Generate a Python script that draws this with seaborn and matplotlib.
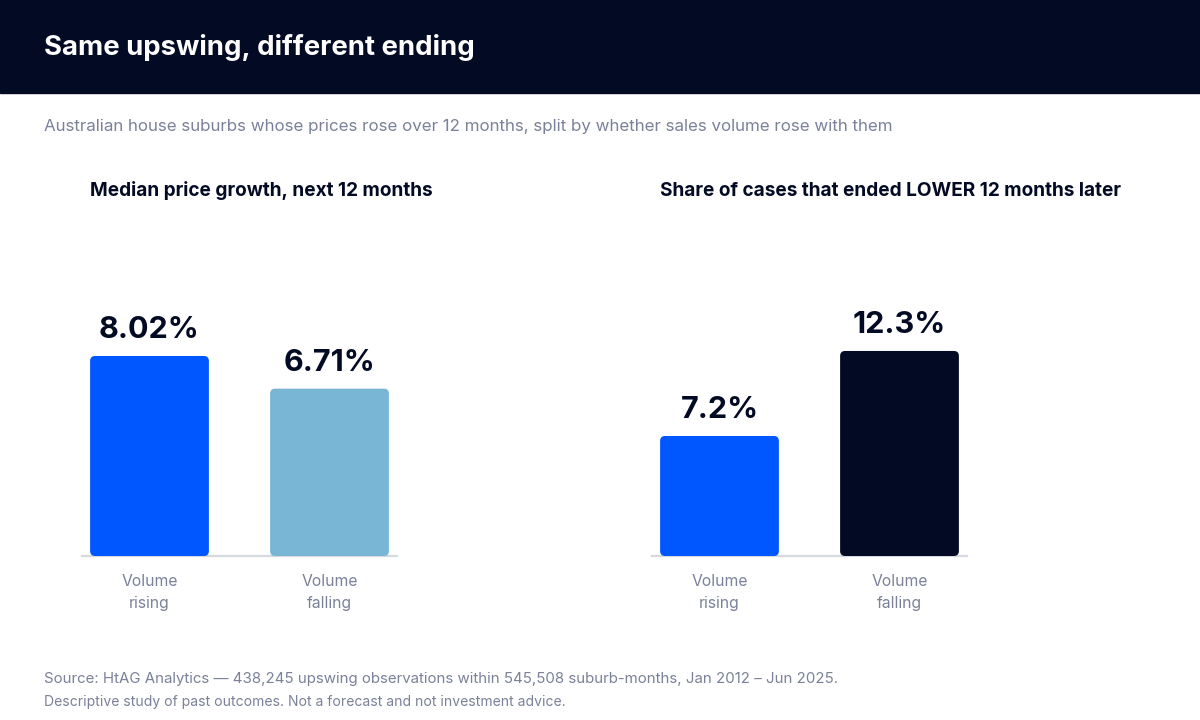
import seaborn as sns
import pandas as pd
import matplotlib.pyplot as plt
from matplotlib.patches import Rectangle, FancyBboxPatch


sns.set_theme(style='white')
plt.rcParams['font.family'] = ['Inter', 'DejaVu Sans']

NAVY = '#030b24'
GREY = '#7a8199'

categories = ['Volume\nrising', 'Volume\nfalling']
growth_vals = [8.02, 6.71]
lower_share_vals = [7.2, 12.3]

growth_colors = ['#0057ff', '#79b6d6']
lower_colors = ['#0057ff', NAVY]

title = 'Same upswing, different ending'
subtitle = ('Australian house suburbs whose prices rose over 12 months, '
            'split by whether sales volume rose with them')
left_title = 'Median price growth, next 12 months'
right_title = 'Share of cases that ended LOWER 12 months later'
source = ('Source: HtAG Analytics \u2014 438,245 upswing observations within '
          '545,508 suburb-months, Jan 2012 \u2013 Jun 2025.')
note = 'Descriptive study of past outcomes. Not a forecast and not investment advice.'


fig = plt.figure(figsize=(12, 7.2), dpi=100)

# dark header band
fig.add_artist(Rectangle((0, 1 - 93 / 720), 1, 93 / 720, transform=fig.transFigure,
                         color=NAVY, zorder=0))
fig.text(44 / 1200, 1 - 55 / 720, title, color='white', fontsize=19.8, weight='bold', va='baseline')
fig.text(44 / 1200, 1 - 131 / 720, subtitle, color=GREY, fontsize=12.2, va='baseline')


def panel(left_px, vals, colors, fmt, ytop, head):
    ax = fig.add_axes([left_px / 1200, 1 - 556 / 720, 315 / 1200, 326 / 720])
    data = pd.DataFrame({'cat': categories, 'val': vals})
    sns.barplot(data=data, x='cat', y='val', hue='cat', palette=colors, legend=False,
                width=0.66, ax=ax, zorder=3)
    ax.set_xlim(-0.375, 1.375)
    ax.set_ylim(0, ytop)

    # swap square bars for rounded ones
    bbox = ax.get_window_extent()
    xu = 1.75 / bbox.width
    yu = ytop / bbox.height
    for p, c in zip(list(ax.patches), colors):
        x, w, h = p.get_x(), p.get_width(), p.get_height()
        p.remove()
        ax.add_patch(FancyBboxPatch((x, 0), w, h, boxstyle=f'round,pad=0,rounding_size={5 * xu}',
                                    mutation_aspect=yu / xu, fc=c, ec='none', zorder=3))
        ax.annotate(fmt.format(h), (x + w / 2, h), xytext=(0, 13), textcoords='offset points',
                    ha='center', va='baseline', fontsize=22, weight='bold', color=NAVY)

    sns.despine(ax=ax, left=True)
    ax.spines['bottom'].set_color('#d5d9e0')
    ax.spines['bottom'].set_linewidth(1.6)
    ax.spines['bottom'].set_zorder(1)
    ax.set_yticks([])
    ax.set_xlabel('')
    ax.set_ylabel('')
    ax.tick_params(axis='x', length=0, pad=13, labelsize=11.3, labelcolor=GREY)
    for t in ax.get_xticklabels():
        t.set_linespacing(1.6)
    fig.text((left_px + 8) / 1200, 1 - 196 / 720, head, color=NAVY, fontsize=13.7,
             weight='bold', va='baseline')
    return ax


panel(82, growth_vals, growth_colors, '{:.2f}%', 326 / 24.94, left_title)
panel(652, lower_share_vals, lower_colors, '{:.1f}%', 326 / 16.67, right_title)

fig.text(44 / 1200, 1 - 683 / 720, source, color=GREY, fontsize=10.8, va='baseline')
fig.text(44 / 1200, 1 - 706 / 720, note, color=GREY, fontsize=10.05, va='baseline')

plt.savefig('out.png', dpi=100)
